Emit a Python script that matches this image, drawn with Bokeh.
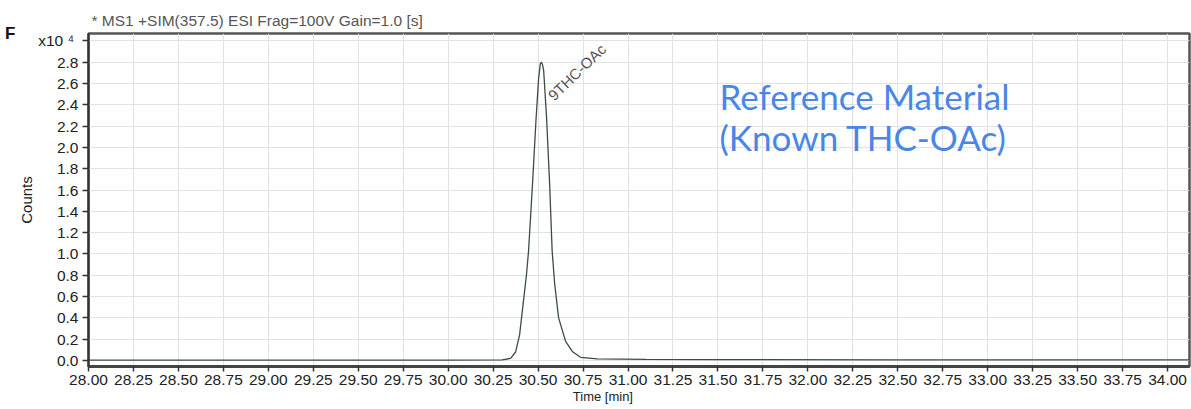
from bokeh.plotting import figure
from bokeh.models import Range1d, FixedTicker, Label, LinearAxis
from bokeh.embed import file_html
from bokeh.resources import INLINE
import math

# ---- data (counts in units of 10^4) ----
times = [28.00, 29.00, 30.00, 30.30, 30.347, 30.375, 30.397, 30.418, 30.435, 30.447,
         30.469, 30.489, 30.503, 30.512, 30.517, 30.524, 30.531, 30.547, 30.564, 30.578,
         30.592, 30.614, 30.653, 30.690, 30.736, 30.829, 31.10, 31.50, 32.50, 34.12]
counts = [0.004, 0.004, 0.004, 0.006, 0.02, 0.08, 0.24, 0.55, 0.80, 1.03,
          1.66, 2.28, 2.65, 2.78, 2.80, 2.78, 2.72, 2.28, 1.66, 1.03,
          0.72, 0.40, 0.18, 0.085, 0.03, 0.015, 0.010, 0.008, 0.006, 0.005]

x_ticks = [28.00, 28.25, 28.50, 28.75, 29.00, 29.25, 29.50, 29.75, 30.00, 30.25,
           30.50, 30.75, 31.00, 31.25, 31.50, 31.75, 32.00, 32.25, 32.50, 32.75,
           33.00, 33.25, 33.50, 33.75, 34.00]
y_ticks = [0.0, 0.2, 0.4, 0.6, 0.8, 1.0, 1.2, 1.4, 1.6, 1.8, 2.0, 2.2, 2.4, 2.6, 2.8, 3.0]
exp_label = "x10 \u2074\u00a0"

title_text = "* MS1 +SIM(357.5) ESI Frag=100V Gain=1.0 [s]"
panel_letter = "F"
x_title = "Time [min]" + "\u00a0" * 20
y_title = "Counts"
peak_label = "9THC-OAc"
note_lines = ["Reference Material", "(Known THC-OAc)"]

# ---- geometry (figure px) ----
W, H = 1191, 409
FL, FR, FT, FB = 88, 1189, 33, 366
X0, X1 = 28.0, 34.122
Y0, Y1 = -0.0563, 3.069

def dx(px):
    return X0 + (px - FL) / (FR - FL) * (X1 - X0)

def dy(py):
    return Y0 + (FB - py) / (FB - FT) * (Y1 - Y0)

p = figure(width=W, height=H, output_backend="svg", toolbar_location=None,
           x_range=Range1d(X0, X1), y_range=Range1d(Y0, Y1),
           min_border_left=FL, min_border_right=W - FR,
           min_border_top=FT, min_border_bottom=H - FB)
p.background_fill_color = "white"
p.border_fill_color = "white"
p.outline_line_color = "#555555"
p.outline_line_width = 2.5

FONT = "Liberation Sans"

p.title.text = title_text
p.title.align = "left"
p.title.offset = 3
p.title.standoff = 9
p.title.text_font = FONT
p.title.text_font_size = "15.5px"
p.title.text_font_style = "normal"
p.title.text_color = "#555555"

for ax in (p.xaxis[0], p.yaxis[0]):
    ax.major_label_text_font = FONT
    ax.major_label_text_font_size = "15.5px"
    ax.major_label_text_color = "#222222"
    ax.major_tick_in = 0
    ax.major_tick_line_color = "#333333"
    ax.major_tick_line_width = 1.5
    ax.minor_tick_line_color = None
    ax.axis_label_text_font = FONT
    ax.axis_label_text_font_style = "normal"
    ax.axis_label_text_color = "#222222"

p.xaxis.ticker = FixedTicker(ticks=x_ticks)
p.yaxis.ticker = FixedTicker(ticks=y_ticks)
p.xaxis.major_label_overrides = {t: f"{t:.2f}" for t in x_ticks}
p.yaxis.major_label_overrides = {t: (exp_label if t == 3.0 else f"{t:.1f}") for t in y_ticks}
p.xaxis.major_tick_out = 5
p.yaxis.major_tick_out = 6
p.xaxis.major_label_standoff = 3
p.yaxis.major_label_standoff = 4
p.xaxis.axis_line_color = "#444444"
p.xaxis.axis_line_width = 3
p.yaxis.axis_line_color = "#333333"
p.yaxis.axis_line_width = 2
p.xaxis.axis_label = x_title
p.xaxis.axis_label_text_font_size = "13px"
p.xaxis.axis_label_standoff = 1
p.yaxis.axis_label = y_title
p.yaxis.axis_label_text_font_size = "15px"
p.yaxis.axis_label_standoff = 0

# panel letter drawn as the only tick label of an extra, invisible left axis
letter_axis = LinearAxis(ticker=FixedTicker(ticks=[Y1 - 0.002]),
                         major_label_overrides={Y1 - 0.002: panel_letter})
letter_axis.axis_line_color = None
letter_axis.major_tick_line_color = None
letter_axis.minor_tick_line_color = None
letter_axis.major_tick_out = 0
letter_axis.major_label_standoff = 0
letter_axis.major_label_text_font = FONT
letter_axis.major_label_text_font_size = "17px"
letter_axis.major_label_text_font_style = "bold"
letter_axis.major_label_text_color = "#111111"
p.add_layout(letter_axis, "left")

p.xgrid.grid_line_color = "#dfe2e2"
p.ygrid.grid_line_color = "#dfe2e2"
p.xgrid.grid_line_width = 1
p.ygrid.grid_line_width = 1

p.line(times, counts, line_color="#3d4a48", line_width=1.3)

def lab(text, x, y, size, color="#222222", font=FONT, angle=0.0):
    p.add_layout(Label(x=x, y=y, text=text, text_font=font, text_font_size=size,
                       text_color=color, text_align="left", text_baseline="middle",
                       angle=angle))

lab(peak_label, dx(550), dy(97), "15px", color="#555555", angle=math.radians(44))
lab(note_lines[0], dx(719), dy(95), "35px", color="#4a86e8", font="Lato")
lab(note_lines[1], dx(719), dy(136), "35px", color="#4a86e8", font="Lato")

open("out.html", "w").write(file_html(p, INLINE))
